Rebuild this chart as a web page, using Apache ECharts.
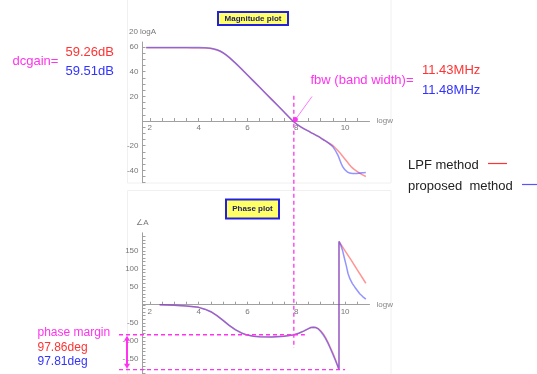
<!DOCTYPE html>
<html>
<head>
<meta charset="utf-8">
<script src="https://cdn.jsdelivr.net/npm/echarts@6/dist/echarts.min.js"></script>
<style>
  html, body { margin: 0; padding: 0; background: #fff; }
  #main { width: 537px; height: 374px; }
</style>
</head>
<body>
<div id="main"></div>
<script>
// magnitude plot (20 logA vs logw)
var magX    = [1.85, 2.5, 3, 3.5, 4, 4.25, 4.5, 4.75, 5, 5.25, 5.5, 5.75, 6, 6.5, 7, 7.5, 7.86, 8.2, 8.57, 8.9, 9.1, 9.3, 9.5, 9.7, 9.9, 10.1, 10.3, 10.5, 10.7, 10.85];
var magLpf  = [59.26, 59.26, 59.26, 59.25, 59.2, 59.1, 58.7, 57.5, 55.2, 51.5, 47.0, 42.2, 37.3, 27.3, 17.3, 7.3, 0, -5, -9, -12.5, -15, -17.5, -20, -24, -28.5, -33.5, -38, -41, -43.5, -45];
var magProp = [59.51, 59.51, 59.51, 59.5, 59.45, 59.3, 58.9, 57.7, 55.3, 51.6, 47.1, 42.3, 37.3, 27.3, 17.3, 7.3, 0, -5, -9, -12.5, -15, -17.5, -21, -27.5, -37, -41.5, -42.5, -42.5, -42, -41.7];

// phase plot (angle A vs logw)
var phaseX    = [2.4, 3, 3.5, 4, 4.25, 4.5, 4.75, 5, 5.25, 5.5, 5.75, 6, 6.25, 6.5, 7, 7.5, 7.86, 8.1, 8.3, 8.5, 8.6, 8.7, 8.8, 8.9, 9.0, 9.1, 9.2, 9.3, 9.4, 9.5, 9.6, 9.7, 9.75];
var phaseLpf  = [0, -1, -3, -7, -12, -19, -30, -43, -57, -69, -78, -84, -87, -88.5, -89, -87.5, -84, -79, -73, -66, -63, -62, -63, -66, -72, -80, -91, -104, -119, -134, -151, -169, -180];
var phaseProp = [0, -1, -3, -7, -12, -19, -30, -43, -57, -69, -78, -84, -87, -88.5, -89, -87.5, -84, -79, -73, -66, -63, -62, -63, -67, -74, -83, -94, -107, -122, -138, -154, -171, -180];
var tailLpfX  = [9.75, 10, 10.25, 10.5, 10.85];
var tailLpf   = [176, 150, 124, 97, 60];
var tailPropX = [9.75, 9.82, 9.9, 9.97, 10.05, 10.12, 10.2, 10.3, 10.4, 10.5, 10.6, 10.72, 10.85];
var tailProp  = [176, 166, 150, 130, 108, 87, 72, 59, 49, 40, 31, 23, 16];

// ticks
var xTicks = [2, 2.5, 3, 3.5, 4, 4.5, 5, 5.5, 6, 6.5, 7, 7.5, 8, 8.5, 9, 9.5, 10, 10.5];
var xLabels = [2, 4, 6, 8, 10];
var magTicks = [-50, -45, -40, -35, -30, -25, -20, -15, -10, -5, 0, 5, 10, 15, 20, 25, 30, 35, 40, 45, 50, 55, 60];
var magLabels = [-40, -20, 20, 40, 60];
var phaseTicks = [-190, -180, -170, -160, -150, -140, -130, -120, -110, -100, -90, -80, -70, -60, -50, -40, -30, -20, -10, 0, 10, 20, 30, 40, 50, 60, 70, 80, 90, 100, 110, 120, 130, 140, 150, 160, 170, 180, 190];
var phaseLabels = [-150, -100, -50, 50, 100, 150];

var fbwLog = 7.9;
var pmPhase = -83;

var FONT = 'Liberation Sans, Arial, sans-serif';
var MAG = '#ff33ee';
var RED_T = '#ff3333';
var BLUE_T = '#3333ff';
var RED_L = 'rgba(255,60,60,0.55)';
var BLUE_L = 'rgba(60,60,255,0.55)';

function zip(xs, ys) {
  var out = [];
  for (var i = 0; i < xs.length; i++) out.push([xs[i], ys[i]]);
  return out;
}

var chart = echarts.init(document.getElementById('main'), null, { renderer: 'canvas' });

// x axis drawn through y = 0 (offset up from the grid bottom)
function xAxisCfg(g, offset) {
  return {
    gridIndex: g, type: 'value', min: 1.7, max: 11, offset: offset,
    axisLine: { onZero: false, lineStyle: { color: '#a0a0a0', width: 1 } },
    axisTick: { inside: true, length: 3, customValues: xTicks, lineStyle: { color: '#a0a0a0' } },
    axisLabel: { customValues: xLabels, fontSize: 8, color: '#777', margin: 3, fontFamily: FONT },
    splitLine: { show: false },
    name: 'logw', nameLocation: 'end', nameGap: 7,
    nameTextStyle: { fontSize: 8, color: '#888', fontFamily: FONT }
  };
}

function yAxisCfg(g, min, max, ticks, labels, name) {
  return {
    gridIndex: g, type: 'value', min: min, max: max,
    axisLine: { show: true, onZero: false, lineStyle: { color: '#a0a0a0', width: 1 } },
    axisTick: { show: true, inside: true, length: 3, customValues: ticks, lineStyle: { color: '#a0a0a0' } },
    axisLabel: { customValues: labels, fontSize: 8, color: '#777', margin: 4, fontFamily: FONT },
    splitLine: { show: false },
    name: name, nameLocation: 'end', nameGap: 6,
    nameTextStyle: { fontSize: 8, color: '#777', fontFamily: FONT }
  };
}

function lineSeries(xi, data, color, smooth) {
  return {
    type: 'line', xAxisIndex: xi, yAxisIndex: xi, data: data,
    showSymbol: false, smooth: smooth, animation: false,
    lineStyle: { color: color, width: 1.5 }, z: 3
  };
}

var option = {
  animation: false,
  grid: [
    { left: 142.5, top: 42, width: 227, height: 140.7 },
    { left: 142.5, top: 232.8, width: 227, height: 141.5 }
  ],
  xAxis: [xAxisCfg(0, -61.7), xAxisCfg(1, -69.3)],
  yAxis: [
    yAxisCfg(0, -50, 64, magTicks, magLabels, '20 logA'),
    yAxisCfg(1, -192, 200, phaseTicks, phaseLabels, '\u2220A')
  ],
  series: [
    lineSeries(0, zip(magX, magLpf), RED_L, 0.3),
    lineSeries(0, zip(magX, magProp), BLUE_L, 0.3),
    lineSeries(1, zip(phaseX, phaseLpf).concat(zip(tailLpfX, tailLpf)), RED_L, false),
    lineSeries(1, zip(phaseX, phaseProp).concat(zip(tailPropX, tailProp)), BLUE_L, false)
  ]
};

chart.setOption(option);

// annotations placed from data coordinates
function px(g, x, y) { return chart.convertToPixel({ gridIndex: g }, [x, y]); }

function txt(x, y, s, color, size, extra) {
  var st = {
    text: s, x: x, y: y, fill: color, font: (extra || '') + size + 'px ' + FONT,
    align: 'left', verticalAlign: 'middle', textAlign: 'left', textVerticalAlign: 'middle'
  };
  return { type: 'text', z: 10, style: st };
}

function dline(x1, y1, x2, y2) {
  return {
    type: 'line', z: 8, shape: { x1: x1, y1: y1, x2: x2, y2: y2 },
    style: { stroke: MAG, lineWidth: 1.3, lineDash: [4, 3] }
  };
}

var cross = px(0, fbwLog, 0);
var vTop = px(0, fbwLog, 20.5);
var vBot = px(1, fbwLog, -120);
var pmY = px(1, 0, pmPhase)[1];
var p180 = px(1, 0, -180)[1];
var pmEnd = px(1, 8.35, 0)[0];
var p180End = px(1, 10.0, 0)[0];

var graphics = [
  // faint frames of the two pasted plots
  { type: 'rect', z: 0, shape: { x: 127.5, y: -1, width: 263.5, height: 184 }, style: { fill: 'none', stroke: '#f0f0f0', lineWidth: 1 } },
  { type: 'rect', z: 0, shape: { x: 127.5, y: 190.5, width: 263.5, height: 190 }, style: { fill: 'none', stroke: '#f0f0f0', lineWidth: 1 } },

  // title boxes
  { type: 'rect', z: 9, shape: { x: 218, y: 12, width: 70, height: 13 }, style: { fill: '#ffff66', stroke: '#2222dd', lineWidth: 2 } },
  { type: 'text', z: 10, style: { text: 'Magnitude plot', x: 253, y: 18.7, fill: '#22226e', font: 'bold 8px ' + FONT, align: 'center', verticalAlign: 'middle', textAlign: 'center', textVerticalAlign: 'middle' } },
  { type: 'rect', z: 9, shape: { x: 226, y: 199.5, width: 53, height: 19 }, style: { fill: '#ffff66', stroke: '#2222dd', lineWidth: 2 } },
  { type: 'text', z: 10, style: { text: 'Phase plot', x: 252.5, y: 209, fill: '#22226e', font: 'bold 8px ' + FONT, align: 'center', verticalAlign: 'middle', textAlign: 'center', textVerticalAlign: 'middle' } },

  // dc gain
  txt(12.5, 61.7, 'dcgain=', MAG, 13),
  txt(65.5, 52.7, '59.26dB', RED_T, 13),
  txt(65.5, 71.7, '59.51dB', BLUE_T, 13),

  // bandwidth
  txt(310.5, 80, 'fbw (band width)=', MAG, 13),
  txt(422, 70.7, '11.43MHz', RED_T, 13),
  txt(422, 90, '11.48MHz', BLUE_T, 13),

  // phase margin
  txt(37.5, 332.3, 'phase margin', MAG, 12),
  txt(37.5, 347.3, '97.86deg', RED_T, 12),
  txt(37.5, 361.7, '97.81deg', BLUE_T, 12),

  // legend
  txt(408, 165.7, 'LPF method', '#222', 13),
  txt(408, 186, 'proposed  method', '#222', 13),
  { type: 'line', z: 8, shape: { x1: 488, y1: 163.5, x2: 507, y2: 163.5 }, style: { stroke: '#ff3333', lineWidth: 1.2 } },
  { type: 'line', z: 8, shape: { x1: 522, y1: 184.5, x2: 540, y2: 184.5 }, style: { stroke: '#5555ff', lineWidth: 1.2 } },

  // dashed guide lines
  dline(vTop[0], vTop[1], vBot[0], vBot[1]),
  dline(119, pmY, pmEnd, pmY),
  dline(119, p180, p180End, p180),

  // phase margin arrow
  { type: 'line', z: 11, shape: { x1: 127, y1: pmY + 3, x2: 127, y2: p180 - 3 }, style: { stroke: MAG, lineWidth: 2 } },
  { type: 'polygon', z: 11, shape: { points: [[127, pmY + 1], [124, pmY + 6], [130, pmY + 6]] }, style: { fill: MAG } },
  { type: 'polygon', z: 11, shape: { points: [[127, p180 - 1], [124, p180 - 6], [130, p180 - 6]] }, style: { fill: MAG } },

  // fbw pointer
  { type: 'line', z: 9, shape: { x1: 312, y1: 96.5, x2: cross[0] + 2, y2: cross[1] - 2 }, style: { stroke: '#ff77ff', lineWidth: 1 } },
  { type: 'circle', z: 9, shape: { cx: cross[0] + 1.5, cy: cross[1] - 1.5, r: 2.5 }, style: { fill: MAG } }
];

chart.setOption({ graphic: graphics });

window.addEventListener('resize', chart.resize);
</script>
</body>
</html>
